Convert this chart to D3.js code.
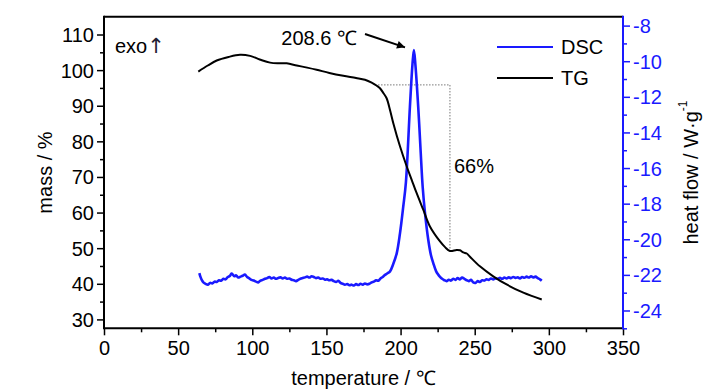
<!DOCTYPE html>
<html><head><meta charset="utf-8">
<script src="https://cdn.jsdelivr.net/npm/d3@7"></script>
<style>
body{margin:0;background:#fff;}
text{font-family:"Liberation Sans",Arial,sans-serif;}
</style></head>
<body><svg id="c" width="728" height="390"></svg>
<script>
// ---- data ----
const tgT    = [63.6,70,76,84,91.7,98.5,105,112,118,123.2,130,137,143.4,152,161.4,170,176,180.5,184,186.1,188.5,190.6,193,195.1,199.6,204.1,207.5,210.8,215.3,219.8,226.6,230,233.3,237.8,240.1,242.3,244.6,246.8,253.5,262.5,271.5,282.8,295.2];
const tgMass = [99.6,101.3,102.7,103.7,104.3,104.0,103.0,102.1,101.9,101.9,101.3,100.7,100.1,99.2,98.4,97.8,97.3,96.5,95.6,94.9,93.5,92.1,88.6,85.1,78.6,73.0,69.2,65.5,60.8,56.1,51.9,50.3,49.2,49.5,49.4,48.8,48.5,47.6,44.9,42.1,39.8,37.5,35.6];
const dscT  = [64.3,65,66,67,68.5,70,71.5,73,74.5,76,77.5,79,80.5,82,83.5,85,86,87,88,89,90.5,92,93.5,95,96.5,98,99.5,101,102.5,104,105.5,107,108.5,110,111.5,113,114.5,116,117.5,119,120.5,122,123.5,125,126.5,128,129.5,131,132.5,134,135.5,137,138.5,140,141.5,143,144.5,146,147.5,149,150.5,152,153.5,155,156.5,158,159.5,161,162.5,164,165.5,167,168.5,170,171.5,173,174.5,176,177.5,179,180.5,182,183.5,185,186.5,188,189.5,191,192.9,195,197.4,199.6,201.8,203.6,206.3,208,209.0,210,211.9,213.5,214.9,216.5,218.7,220.5,222.1,224,225.5,226.6,228,229.5,231,232.5,234,235.5,237,238.5,240,241.5,243,244.5,246,247.5,249,250.5,252,253.5,255,256.5,258,259.5,261,262.5,264,265.5,267,268.5,270,271.5,273,274.5,276,277.5,279,280.5,282,283.5,285,286.5,288,289.5,291,292.5,294,295.2];
const dscHF = [-21.9,-22.1,-22.3,-22.42,-22.5,-22.55,-22.45,-22.48,-22.38,-22.4,-22.3,-22.33,-22.22,-22.25,-22.12,-22.05,-21.92,-22.0,-22.08,-22.02,-22.15,-22.1,-22.05,-21.98,-22.12,-22.2,-22.28,-22.32,-22.38,-22.42,-22.32,-22.28,-22.22,-22.18,-22.12,-22.2,-22.15,-22.22,-22.17,-22.14,-22.2,-22.15,-22.22,-22.2,-22.27,-22.3,-22.35,-22.28,-22.22,-22.18,-22.14,-22.1,-22.15,-22.08,-22.12,-22.18,-22.15,-22.22,-22.2,-22.27,-22.25,-22.3,-22.28,-22.35,-22.4,-22.33,-22.45,-22.5,-22.55,-22.52,-22.58,-22.55,-22.6,-22.52,-22.57,-22.5,-22.55,-22.48,-22.53,-22.5,-22.42,-22.38,-22.3,-22.33,-22.2,-22.12,-22.0,-21.92,-21.8,-21.4,-20.79,-19.67,-18.17,-16.8,-12.56,-10.2,-9.37,-10.2,-12.56,-15,-17.05,-18.54,-20.04,-20.9,-21.35,-21.8,-22.0,-22.11,-22.22,-22.3,-22.35,-22.28,-22.32,-22.22,-22.28,-22.18,-22.25,-22.15,-22.22,-22.3,-22.35,-22.28,-22.42,-22.45,-22.35,-22.4,-22.3,-22.32,-22.25,-22.28,-22.2,-22.25,-22.2,-22.22,-22.17,-22.22,-22.15,-22.2,-22.14,-22.18,-22.12,-22.17,-22.14,-22.2,-22.12,-22.16,-22.1,-22.15,-22.08,-22.14,-22.1,-22.18,-22.25,-22.33];
const xTicks = [0,50,100,150,200,250,300,350];
const xMinor = [25,75,125,175,225,275,325];
const yTicks = [30,40,50,60,70,80,90,100,110];
const yMinor = [35,45,55,65,75,85,95,105];
const y2Ticks = [-24,-22,-20,-18,-16,-14,-12,-10,-8];
const y2Minor = [-25,-23,-21,-19,-17,-15,-13,-11,-9];
const step = {tStart:184.8, tEnd:233.3, mTop:95.85, mBot:49.3};
const peakLabel = "208.6 ℃";

// ---- layout ----
const L=104, T=16.7, W=519, H=311.6;
const svg=d3.select("#c");
const x=d3.scaleLinear().domain([0,350]).range([L,L+W]);
const y=d3.scaleLinear().domain([27.5,115]).range([T+H,T]);
const y2=d3.scaleLinear().domain([-25,-7.5]).range([T+H,T]);
const blue="#1a1aff";
const fs=20;
const fmt=d=>String(d);

function styleAxis(g,col,sw){
  g.select(".domain").remove();
  g.selectAll("line").attr("stroke",col).attr("stroke-width",sw);
  g.selectAll("text").attr("fill",col).style("font-size",fs+"px").style("font-family","'Liberation Sans',Arial,sans-serif");
}
// bottom
svg.append("g").attr("transform",`translate(0,${T+H})`).call(d3.axisBottom(x).tickValues(xTicks).tickSize(7).tickPadding(3).tickFormat(fmt)).call(g=>styleAxis(g,"#000",1.5))
  .call(g=>g.selectAll("text").attr("y",20).attr("dy",null).attr("dominant-baseline","central"));
svg.append("g").attr("transform",`translate(0,${T+H})`).call(d3.axisBottom(x).tickValues(xMinor).tickSize(4).tickFormat("")).call(g=>styleAxis(g,"#000",1.5));
// left
svg.append("g").attr("transform",`translate(${L},0)`).call(d3.axisLeft(y).tickValues(yTicks).tickSize(7).tickPadding(3).tickFormat(fmt)).call(g=>styleAxis(g,"#000",1.5))
  .call(g=>g.selectAll("text").attr("dy",null).attr("dominant-baseline","central"));
svg.append("g").attr("transform",`translate(${L},0)`).call(d3.axisLeft(y).tickValues(yMinor).tickSize(4).tickFormat("")).call(g=>styleAxis(g,"#000",1.5));
// right
svg.append("g").attr("transform",`translate(${L+W},0)`).call(d3.axisRight(y2).tickValues(y2Ticks).tickSize(7).tickPadding(3).tickFormat(fmt)).call(g=>styleAxis(g,blue,1.5))
  .call(g=>g.selectAll("text").attr("dy",null).attr("dominant-baseline","central"));
svg.append("g").attr("transform",`translate(${L+W},0)`).call(d3.axisRight(y2).tickValues(y2Minor).tickSize(4).tickFormat("")).call(g=>styleAxis(g,blue,1.5));
// frame
svg.append("line").attr("x1",L).attr("x2",L+W).attr("y1",T).attr("y2",T).attr("stroke","#000").attr("stroke-width",2);
svg.append("line").attr("x1",L).attr("x2",L+W).attr("y1",T+H).attr("y2",T+H).attr("stroke","#000").attr("stroke-width",2);
svg.append("line").attr("x1",L).attr("x2",L).attr("y1",T-1).attr("y2",T+H+1).attr("stroke","#000").attr("stroke-width",2);
svg.append("line").attr("x1",L+W).attr("x2",L+W).attr("y1",T-1).attr("y2",T+H+1).attr("stroke",blue).attr("stroke-width",2);

// dotted step
svg.append("path").attr("d",`M${x(step.tStart)},${y(step.mTop)}H${x(step.tEnd)}V${y(step.mBot)}`)
  .attr("fill","none").attr("stroke","#777").attr("stroke-width",1).attr("stroke-dasharray","1.5,1.5");

// curves
const tgData=tgT.map((t,i)=>[t,tgMass[i]]);
const dscData=dscT.map((t,i)=>[t,dscHF[i]]);
svg.append("path").datum(dscData).attr("fill","none").attr("stroke",blue).attr("stroke-width",2.6).attr("stroke-linejoin","round")
  .attr("d",d3.line().x(d=>x(d[0])).y(d=>y2(d[1])).curve(d3.curveCatmullRom.alpha(0.5)));
svg.append("path").datum(tgData).attr("fill","none").attr("stroke","#000").attr("stroke-width",2).attr("stroke-linejoin","round")
  .attr("d",d3.line().x(d=>x(d[0])).y(d=>y(d[1])).curve(d3.curveCatmullRom.alpha(0.5)));

// legend
const lg=[["DSC",blue,47],["TG","#000",78]];
lg.forEach(([n,c,yy])=>{
  svg.append("line").attr("x1",497).attr("x2",553).attr("y1",yy).attr("y2",yy).attr("stroke",c).attr("stroke-width",2);
  svg.append("text").attr("x",561).attr("y",yy).attr("dominant-baseline","central").style("font-size",fs+"px").text(n);
});

// annotations
const exo=svg.append("text").attr("x",115).attr("y",53).style("font-size",fs+"px");
exo.append("tspan").text("exo");
exo.append("tspan").style("font-family","'DejaVu Sans'").style("font-size","21px").attr("fill","#223").text("↑");
svg.append("text").attr("x",x(170.6)).attr("y",y(107)).attr("text-anchor","end").style("font-size",fs+"px").text(peakLabel);
svg.append("defs").append("marker").attr("id","ah").attr("viewBox","0 0 10 10").attr("refX",10).attr("refY",5)
  .attr("markerWidth",5).attr("markerHeight",4).attr("orient","auto").attr("markerUnits","strokeWidth")
  .append("path").attr("d","M0,0L10,5L0,10z").attr("fill","#000");
svg.append("line").attr("x1",x(176)).attr("y1",y(110.15)).attr("x2",x(203)).attr("y2",y(106.4))
  .attr("stroke","#000").attr("stroke-width",2).attr("marker-end","url(#ah)");
svg.append("text").attr("x",x(236)).attr("y",y(73)).attr("dominant-baseline","central").style("font-size",fs+"px").text("66%");

// axis titles
svg.append("text").attr("x",x(175)).attr("y",378).attr("text-anchor","middle").attr("dominant-baseline","central").style("font-size",fs+"px").text("temperature / ℃");
svg.append("text").attr("transform",`translate(45,${T+H/2}) rotate(-90)`).attr("text-anchor","middle").attr("dominant-baseline","central").style("font-size",fs+"px").text("mass / %");
const rt=svg.append("text").attr("transform",`translate(691,${T+H/2}) rotate(-90)`).attr("text-anchor","middle").attr("dominant-baseline","central").style("font-size",fs+"px");
rt.append("tspan").text("heat flow / W·g");
rt.append("tspan").attr("dy",-8).style("font-size","12px").text("-1");
</script></body></html>
